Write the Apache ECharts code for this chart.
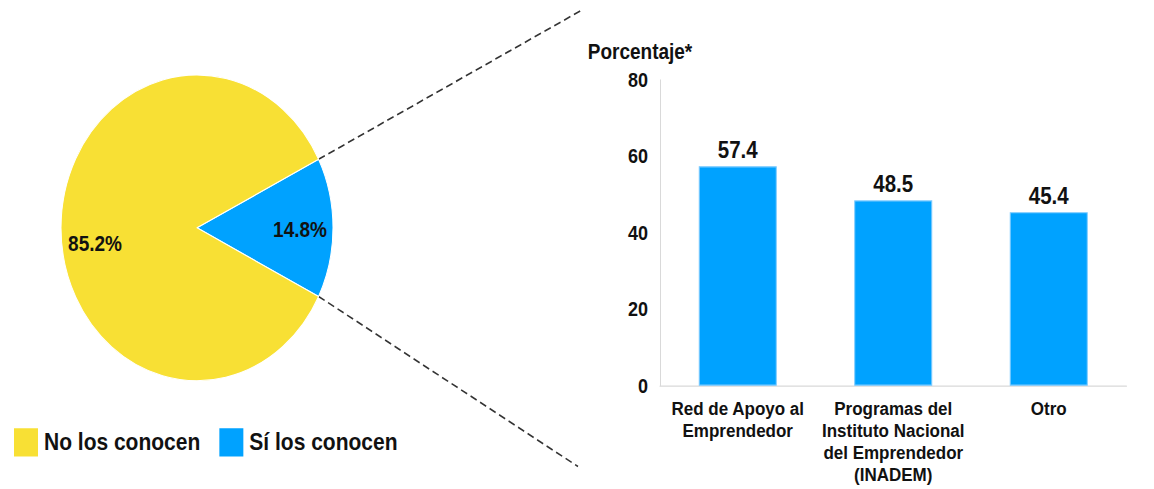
<!DOCTYPE html>
<html><head><meta charset="utf-8">
<script src="https://cdn.jsdelivr.net/npm/echarts@6/dist/echarts.min.js"></script>
<style>
html,body{margin:0;padding:0;background:#fff;width:1154px;height:489px}
#c{width:1154px;height:435px;transform:scaleY(1.12414);transform-origin:0 0}
</style>
</head><body><div id="c"></div>
<script>
// ---- data ----
const pieNames = ['No los conocen', 'Sí los conocen'];
const pieValues = [85.2, 14.8];
const barCategories = ['Red de Apoyo al\nEmprendedor', 'Programas del\nInstituto Nacional\ndel Emprendedor\n(INADEM)', 'Otro'];
const barValues = [57.4, 48.5, 45.4];
const yAxisName = 'Porcentaje*';

// ---- styles / layout ----
const YELLOW = '#F8E034';
const BLUE = '#00A2FF';
const TXT = '#111';
const FONT = '"Liberation Sans", Arial, sans-serif';
const pieCenter = [197, 202.7];
const pieR = 136;

const total = pieValues.reduce((a, b) => a + b, 0);
const halfDeg = pieValues[1] / total * 180;   // half of the "Sí" slice angle
const halfRad = halfDeg * Math.PI / 180;
const p1 = [pieCenter[0] + pieR * Math.cos(halfRad), pieCenter[1] - pieR * Math.sin(halfRad)];
const p2 = [pieCenter[0] + pieR * Math.cos(halfRad), pieCenter[1] + pieR * Math.sin(halfRad)];

const chart = echarts.init(document.getElementById('c'), null, { renderer: 'svg' });
chart.setOption({
  animation: false,
  textStyle: { fontFamily: FONT },
  legend: {
    data: pieNames,
    left: 12, top: 379, padding: 0,
    icon: 'rect', itemWidth: 26, itemHeight: 27, itemGap: 17,
    textStyle: { fontSize: 21, fontWeight: 'bold', color: TXT, fontFamily: FONT }
  },
  grid: { left: 660, right: 27.5, top: 71.1, bottom: 91.9, containLabel: false },
  xAxis: {
    type: 'category', data: barCategories,
    axisTick: { show: false },
    axisLine: { lineStyle: { color: '#d9d9d9', width: 1 } },
    axisLabel: { interval: 0, margin: 11, fontSize: 17, fontWeight: 'bold', color: TXT, lineHeight: 19.6, fontFamily: FONT }
  },
  yAxis: {
    type: 'value', min: 0, max: 80, interval: 20,
    name: yAxisName, nameLocation: 'end', nameGap: 16,
    nameTextStyle: { fontSize: 19, fontWeight: 'bold', color: TXT, align: 'center', padding: [0, 40, 0, 0], fontFamily: FONT },
    axisLine: { show: true, lineStyle: { color: '#d9d9d9', width: 1 } },
    axisTick: { show: false },
    splitLine: { show: false },
    axisLabel: { margin: 12, fontSize: 18, fontWeight: 'bold', color: TXT, fontFamily: FONT }
  },
  series: [
    {
      type: 'pie',
      center: pieCenter, radius: pieR,
      startAngle: halfDeg, clockwise: true,
      itemStyle: { borderColor: '#fff', borderWidth: 1 },
      label: {
        show: true, position: 'inside', formatter: p => p.value.toFixed(1) + '%',
        fontSize: 19, fontWeight: 'bold', color: TXT, fontFamily: FONT
      },
      labelLine: { show: false },
      labelLayout: function (params) {
        return params.dataIndex === 0 ? { dx: 32, dy: 1.7 } : { dx: -31, dy: 13.6 };
      },
      emphasis: { disabled: true },
      data: [
        { name: pieNames[1], value: pieValues[1], itemStyle: { color: BLUE } },
        { name: pieNames[0], value: pieValues[0], itemStyle: { color: YELLOW } }
      ]
    },
    {
      type: 'bar',
      data: barValues,
      barWidth: 78,
      itemStyle: { color: BLUE, borderColor: '#7ccaff', borderWidth: 1 },
      label: { show: true, position: 'top', distance: 4, fontSize: 20.5, fontWeight: 'bold', color: TXT, fontFamily: FONT },
      emphasis: { disabled: true }
    }
  ],
  graphic: [
    { type: 'line', shape: { x1: p1[0], y1: p1[1], x2: 582, y2: 8.9 }, style: { stroke: '#333', lineWidth: 1.5, lineDash: [7, 4] }, silent: true },
    { type: 'line', shape: { x1: p2[0], y1: p2[1], x2: 578, y2: 415 }, style: { stroke: '#333', lineWidth: 1.5, lineDash: [7, 4] }, silent: true }
  ]
});
</script>
</body></html>
